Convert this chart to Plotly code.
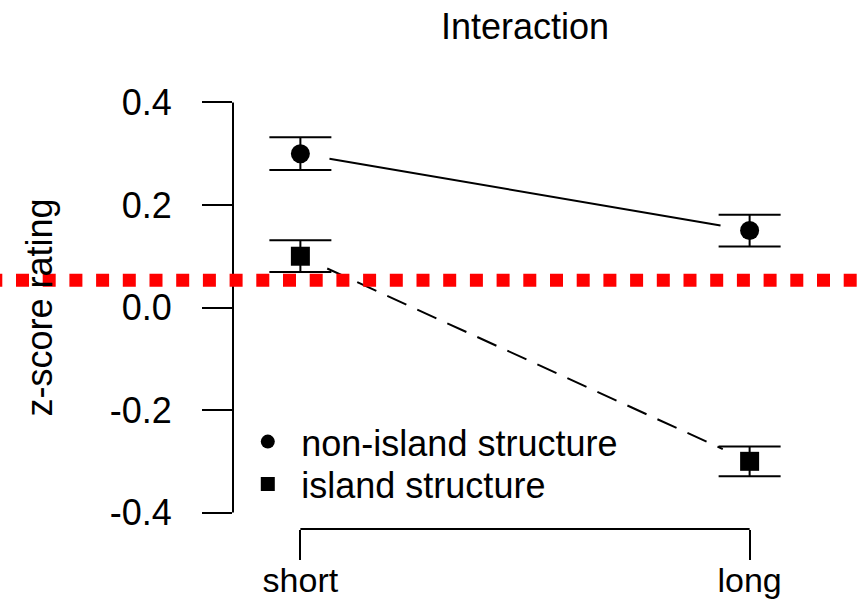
import plotly.graph_objects as go

# ---- data -------------------------------------------------------------
conditions = ["short", "long"]
series_names = ["non-island structure", "island structure"]
non_island_mean = [0.30, 0.15]
non_island_se = [0.032, 0.031]
island_mean = [0.10, -0.30]
island_se = [0.031, 0.029]
reference_level = 0.053
y_ticks = [-0.4, -0.2, 0.0, 0.2, 0.4]
y_tick_labels = ["-0.4", "-0.2", "0.0", "0.2", "0.4"]

# ---- geometry / style --------------------------------------------------
W, H = 867, 600
M = dict(l=233, r=50, t=86, b=71)
X_RANGE = [0.85, 2.15]
Y_RANGE = [-0.432, 0.432]
FONT = "Liberation Sans, Arial, Helvetica, sans-serif"
FS = 36
GAP_PX = 29.5  # gap left around each point by the connecting lines

x_pos = [i + 1 for i in range(len(conditions))]
plot_w = W - M["l"] - M["r"]
plot_h = H - M["t"] - M["b"]
px_per_x = plot_w / (X_RANGE[1] - X_RANGE[0])
px_per_y = plot_h / (Y_RANGE[1] - Y_RANGE[0])


def gapped(xs, ys):
    """Segments joining successive points, stopping short of each marker."""
    gx, gy = [], []
    for x0, y0, x1, y1 in zip(xs, ys, xs[1:], ys[1:]):
        length = (((x1 - x0) * px_per_x) ** 2 + ((y1 - y0) * px_per_y) ** 2) ** 0.5
        f = GAP_PX / length
        gx += [x0 + f * (x1 - x0), x1 - f * (x1 - x0), None]
        gy += [y0 + f * (y1 - y0), y1 - f * (y1 - y0), None]
    return gx, gy


fig = go.Figure()

series = [
    (series_names[0], non_island_mean, non_island_se, "circle", "solid", "legend"),
    (series_names[1], island_mean, island_se, "square", "21px,12px", "legend2"),
]

for name, mean, se, symbol, dash, _ in series:
    lx, ly = gapped(x_pos, mean)
    fig.add_trace(go.Scatter(
        x=lx, y=ly, mode="lines", showlegend=False, hoverinfo="skip",
        line=dict(color="black", width=2, dash=dash),
    ))
    fig.add_trace(go.Scatter(
        x=x_pos, y=mean, mode="markers", name=name, showlegend=False,
        marker=dict(symbol=symbol, size=19, color="black"),
        error_y=dict(type="data", array=se, visible=True,
                     color="black", thickness=2, width=31),
    ))

# legend entries (symbols only), one legend box per row
for name, mean, se, symbol, dash, leg in series:
    fig.add_trace(go.Scatter(
        x=[None], y=[None], mode="markers", name=name, legend=leg,
        marker=dict(symbol=symbol, size=14, color="black"),
    ))

axis_common = dict(
    showgrid=False, zeroline=False, showline=False, automargin=False,
    ticks="outside", ticklen=30, tickwidth=2, tickcolor="black",
)

fig.update_xaxes(range=X_RANGE, tickmode="array", tickvals=x_pos,
                 ticktext=conditions, ticklabelstandoff=-9,
                 tickfont=dict(family=FONT, size=34, color="black"), **axis_common)
fig.update_yaxes(range=Y_RANGE, tickmode="array", tickvals=y_ticks,
                 ticktext=y_tick_labels, ticklabelstandoff=23,
                 tickfont=dict(family=FONT, size=FS, color="black"), **axis_common)

shapes = [
    # y axis line spanning the tick range
    dict(type="line", xref="paper", yref="y", x0=0, x1=0,
         y0=min(y_ticks), y1=max(y_ticks), line=dict(color="black", width=2)),
    # x axis line between the first and last condition
    dict(type="line", xref="x", yref="paper", x0=x_pos[0], x1=x_pos[-1],
         y0=0, y1=0, line=dict(color="black", width=2)),
    # red dotted reference line across the whole figure
    dict(type="line", xref="paper", yref="y",
         x0=(-10.7 - M["l"]) / plot_w, x1=(W + 20 - M["l"]) / plot_w,
         y0=reference_level, y1=reference_level,
         line=dict(color="#ff0000", width=13, dash="13px,13.7px")),
]

legend_style = dict(xanchor="left", yanchor="middle", bgcolor="rgba(0,0,0,0)",
                    itemwidth=57, font=dict(family=FONT, size=FS, color="black"))
legend_x = (234.3 - M["l"]) / plot_w

fig.update_layout(
    width=W, height=H, margin=M,
    paper_bgcolor="white", plot_bgcolor="white",
    font=dict(family=FONT, size=FS, color="black"),
    title=dict(text="Interaction", x=0.5, xref="paper", xanchor="center",
               y=1 - 26 / H, yref="container", yanchor="middle",
               font=dict(family=FONT, size=FS, color="black")),
    shapes=shapes,
    annotations=[dict(text="z-score rating", textangle=-90, showarrow=False,
                      xref="paper", yref="paper", x=(39 - M["l"]) / plot_w, y=0.5,
                      xanchor="center", yanchor="middle",
                      font=dict(family=FONT, size=FS, color="black"))],
    legend=dict(x=legend_x, y=(H - M["b"] - 441.7) / plot_h, **legend_style),
    legend2=dict(x=legend_x, y=(H - M["b"] - 484) / plot_h, **legend_style),
    showlegend=True,
)

fig.write_html("out.html")
